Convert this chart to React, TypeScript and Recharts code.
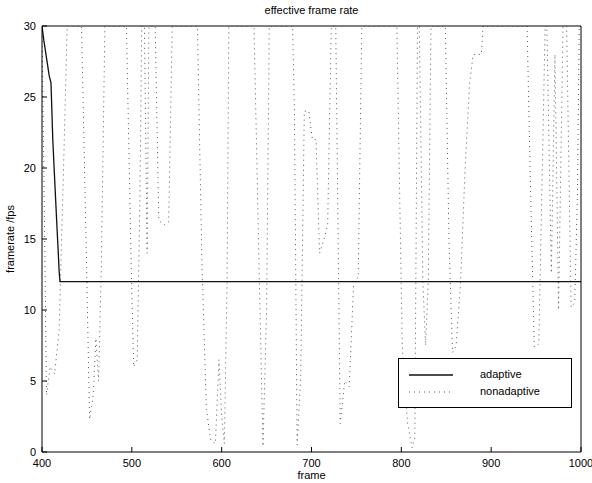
import { LineChart, Line, XAxis, YAxis } from "recharts";

const FONT = "'Liberation Sans', Arial, Helvetica, sans-serif";

const FRAME_TICKS = [400, 500, 600, 700, 800, 900, 1000];
const FPS_TICKS = [0, 5, 10, 15, 20, 25, 30];

// adaptive: quick fall from 30 fps, then pinned at 12
const ADAPTIVE: [number, number][] = [
  [400, 30], [402, 29], [408, 26.5], [410, 26], [412, 22], [415, 18],
  [417, 15.4], [418, 14.2], [419, 12.8], [420, 12], [1000, 12],
];

// nonadaptive: sits at 30 with sharp drops
const NONADAPTIVE: [number, number][] = [
  [400, 30], [403, 15], [405, 4], [409, 6], [414, 5.5], [419, 8.5], [424, 20], [428, 30],
  [444, 30], [449, 15], [453, 2.3], [457, 4], [460, 8], [463, 5], [466, 13], [470, 30],
  [494, 30], [499, 14], [502, 6], [506, 6.5], [509, 18], [511, 30],
  [514, 30], [517, 14], [519, 30],
  [526, 30], [530, 16.3], [536, 16], [541, 16.2], [545, 30],
  [573, 30], [578, 13.4], [583, 3], [588, 0.8], [593, 0.6], [597, 6.5], [600, 2.5], [603, 0.6], [606, 12], [608, 30],
  [636, 30], [642, 12], [646, 0.4], [650, 10], [653, 30],
  [679, 30], [681, 24], [684, 0.5], [688, 5.3], [692, 24], [697, 24], [701, 22], [705, 22], [709, 14], [714, 15], [718, 16], [722, 30],
  [727, 30], [732, 2], [737, 5], [742, 4.6], [747, 12], [752, 12.3], [756, 30],
  [795, 30], [801, 7.5], [807, 2], [812, 0.3], [815, 1], [818, 30],
  [820, 30], [824, 12], [827, 7.5], [830, 12], [833, 30],
  [849, 30], [853, 15], [857, 7], [861, 7.5], [866, 12], [871, 20], [876, 26], [880, 28], [889, 28], [891, 30],
  [940, 30], [944, 18], [948, 7.4], [953, 7.6], [957, 20], [960, 30],
  [962, 30], [967, 12.6], [971, 28], [975, 10], [980, 30],
  [984, 30], [989, 10.2], [993, 10.5], [996, 18], [998, 30], [1000, 30],
];

const toRows = (pts: [number, number][]) => pts.map(([frame, fps]) => ({ frame, fps }));

const TICK = { fill: "#000", fontSize: 11, fontFamily: FONT };
const DOTTED = "1 4";

export default function App() {
  const adaptive = toRows(ADAPTIVE);
  const nonadaptive = toRows(NONADAPTIVE);

  return (
    <div style={{ position: "absolute", left: 0, top: 0, width: 592, height: 483, background: "#fff", fontFamily: FONT }}>
      <LineChart width={592} height={483} margin={{ top: 0, right: 0, bottom: 0, left: 0 }}>
        <XAxis xAxisId="b" dataKey="frame" type="number" domain={[400, 1000]} ticks={FRAME_TICKS}
          orientation="bottom" height={31} tickSize={-5} tickMargin={12}
          stroke="#000" tick={TICK} allowDataOverflow />
        <XAxis xAxisId="t" dataKey="frame" type="number" domain={[400, 1000]} ticks={FRAME_TICKS}
          orientation="top" height={26} tickSize={-5} tick={false} stroke="#000" allowDataOverflow />
        <YAxis yAxisId="l" type="number" domain={[0, 30]} ticks={FPS_TICKS}
          width={42} tickSize={-5} tickMargin={11} stroke="#000" tick={TICK} allowDataOverflow />
        <YAxis yAxisId="r" type="number" domain={[0, 30]} ticks={FPS_TICKS} orientation="right"
          width={11} tickSize={-5} tick={false} stroke="#000" allowDataOverflow />
        <Line xAxisId="b" yAxisId="l" data={nonadaptive} dataKey="fps" type="linear"
          stroke="#555" strokeWidth={1} strokeDasharray={DOTTED} dot={false} isAnimationActive={false} />
        <Line xAxisId="t" yAxisId="r" data={adaptive} dataKey="fps" type="linear"
          stroke="#111" strokeWidth={1.3} dot={false} isAnimationActive={false} />
      </LineChart>

      <div style={{ position: "absolute", left: 42, width: 539, top: 4, textAlign: "center", fontSize: 11 }}>
        effective frame rate
      </div>
      <div style={{ position: "absolute", left: 42, width: 539, top: 469, textAlign: "center", fontSize: 11 }}>
        frame
      </div>
      <div style={{
        position: "absolute", left: 10, top: 239, fontSize: 11, whiteSpace: "nowrap",
        transform: "translate(-50%, -50%) rotate(-90deg)",
      }}>
        framerate /fps
      </div>

      <div style={{
        position: "absolute", left: 398, top: 358, width: 174, height: 50, boxSizing: "border-box",
        border: "1px solid #000", background: "#fff", fontSize: 11,
      }}>
        <svg width={60} height={48} style={{ position: "absolute", left: 0, top: 0 }}>
          <line x1={10} x2={54} y1={16} y2={16} stroke="#111" strokeWidth={1.3} />
          <line x1={10} x2={54} y1={33} y2={33} stroke="#555" strokeDasharray={DOTTED} />
        </svg>
        <div style={{ position: "absolute", left: 81, top: 9 }}>adaptive</div>
        <div style={{ position: "absolute", left: 81, top: 26 }}>nonadaptive</div>
      </div>
    </div>
  );
}
